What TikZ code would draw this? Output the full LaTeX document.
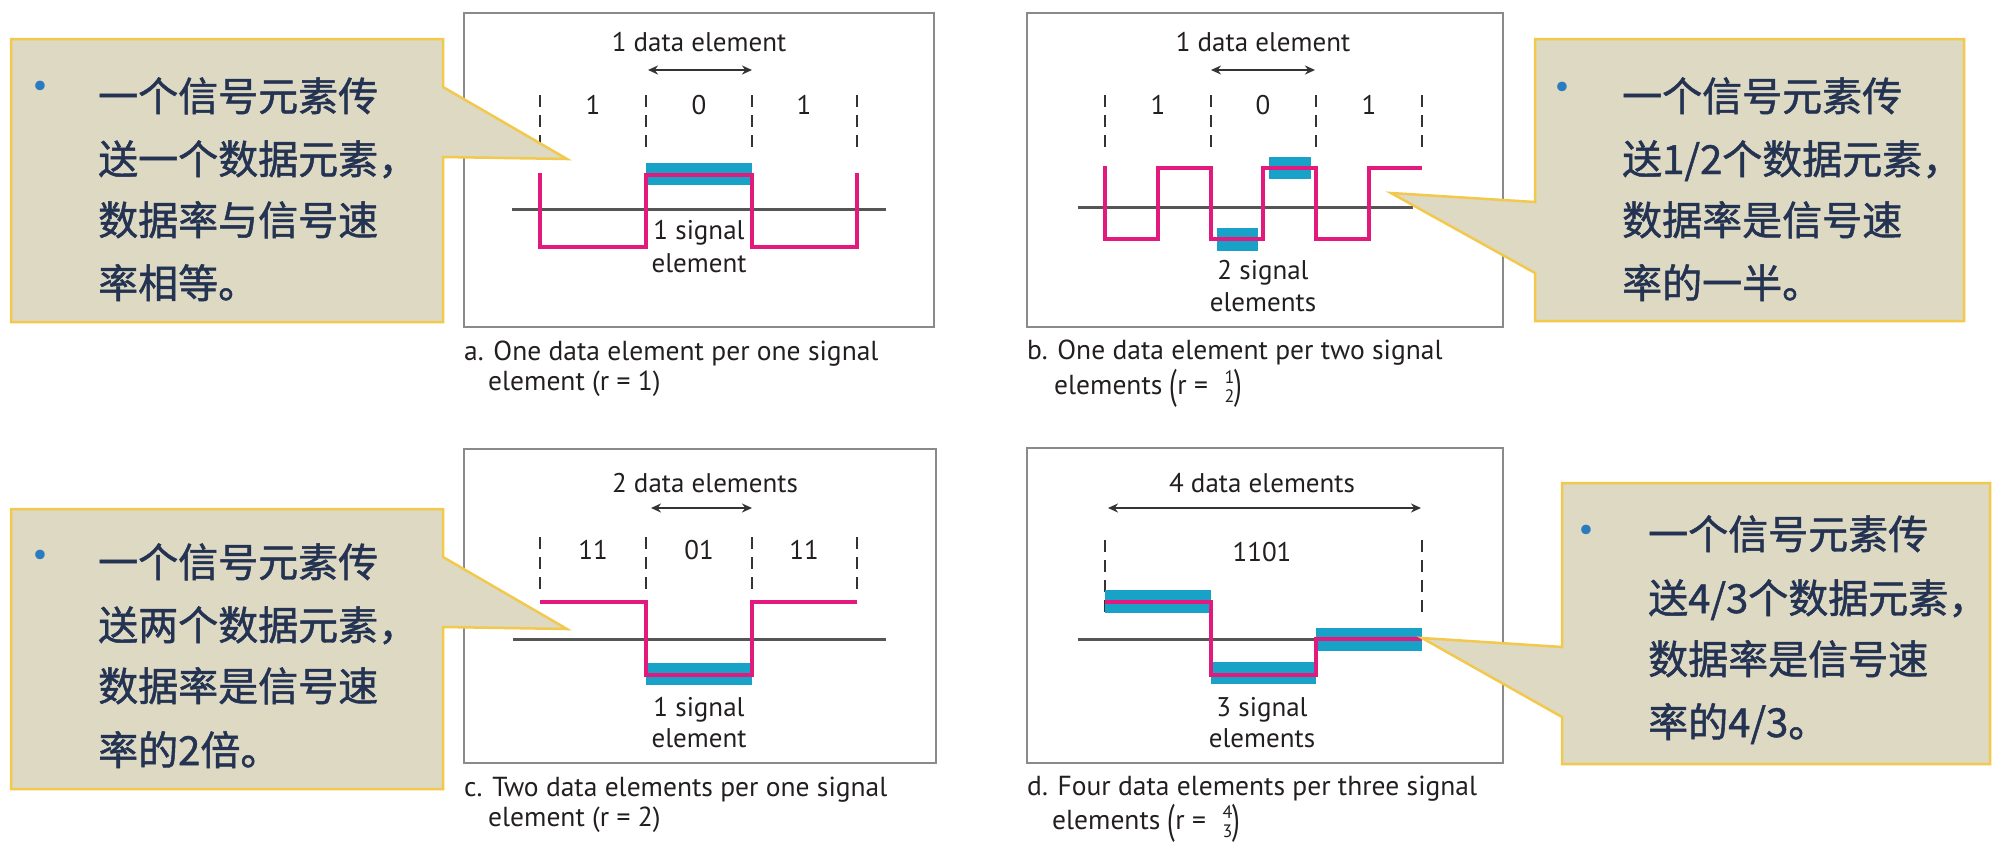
\documentclass[tikz,border=0pt]{standalone}
\usepackage{fontspec}
\usepackage{graphicx}
\setmainfont{PT Sans}
\newfontfamily\cjk{Noto Sans CJK SC}[FakeBold=1.2]
\usetikzlibrary{arrows.meta}
\definecolor{boxgray}{HTML}{8A8A8A}
\definecolor{axisgray}{HTML}{555555}
\definecolor{sigpink}{HTML}{E31A7E}
\definecolor{barcyan}{HTML}{19A2C7}
\definecolor{textblack}{HTML}{231F20}
\definecolor{callfill}{HTML}{DDD9C3}
\definecolor{calledge}{HTML}{F2C94C}
\definecolor{cntext}{HTML}{243352}
\definecolor{bulletblue}{HTML}{2B7BC0}
\newcommand{\tallp}[1]{\raisebox{-0.15em}{\scalebox{1}[1.5]{#1}}}
\newcommand{\stackfrac}[2]{{\fontsize{18}{19}\selectfont\renewcommand\arraystretch{1.0}\begin{tabular}[c]{@{}c@{}}#1\\#2\end{tabular}}}
\begin{document}
\begin{tikzpicture}[x=1pt,y=-1pt,
  panelbox/.style={draw=boxgray, line width=2.5pt},
  axisline/.style={draw=axisgray, line width=3pt},
  sig/.style={draw=sigpink, line width=4.5pt, line join=miter},
  bar/.style={fill=barcyan},
  guide/.style={draw=black!80, line width=2pt, dash pattern=on 12pt off 8pt},
  span/.style={draw=black!80, line width=2pt, {Stealth[length=10pt,width=9pt]}-{Stealth[length=10pt,width=9pt]}},
  lbl/.style={font=\fontsize{27}{31}\selectfont, text=textblack, inner sep=0pt, anchor=base},
  captext/.style={font=\fontsize{27.5}{31}\selectfont, text=textblack, inner sep=0pt, anchor=base west},
  callout/.style={fill=callfill, draw=calledge, line width=2.5pt, line join=miter},
  cn/.style={font=\cjk\fontsize{40}{48}\selectfont, text=cntext, anchor=base west, inner sep=0pt},
  dot/.style={font=\fontsize{34}{34}\selectfont, text=bulletblue, anchor=center, inner sep=0pt}]
\useasboundingbox[fill=white] (0,0) rectangle (2003,844);

% ---------- panel a ----------
\draw[panelbox] (464,13) rectangle (934,327);
\node[lbl] (a-top) at (699,51) {1 data element};
\coordinate (a-l) at (648,70); \coordinate (a-r) at (752,70);
\draw[span] (a-l) -- (a-r);
\foreach \x in {540,646,752,857} \draw[guide] (\x,95) -- (\x,147);
\node[lbl] (a-b1) at (593,114) {1};
\node[lbl] (a-b2) at (699,114) {0};
\node[lbl] (a-b3) at (804,114) {1};
\draw[axisline] (512,209) -- (886,209);
\fill[bar] (646,163) rectangle (752,185);
\draw[sig] (540,173) -- (540,247) -- (646,247) -- (646,175) -- (752,175) -- (752,247) -- (857,247) -- (857,173);
\node[lbl] (a-s1) at (699,239) {1 signal};
\node[lbl] (a-s2) at (699,272) {element};
\node[captext] (a-c1) at (464,360) {a. One data element per one signal};
\node[captext] (a-c2) at (488,390) {element (r = 1)};

% ---------- panel b ----------
\draw[panelbox] (1027,13) rectangle (1503,327);
\node[lbl] (b-top) at (1263,51) {1 data element};
\coordinate (b-l) at (1211,70); \coordinate (b-r) at (1315,70);
\draw[span] (b-l) -- (b-r);
\foreach \x in {1105,1211,1316,1422} \draw[guide] (\x,95) -- (\x,147);
\node[lbl] (b-b1) at (1158,114) {1};
\node[lbl] (b-b2) at (1263,114) {0};
\node[lbl] (b-b3) at (1369,114) {1};
\draw[axisline] (1078,207) -- (1413,207);
\fill[bar] (1217,228) rectangle (1258,251);
\fill[bar] (1269,157) rectangle (1311,179);
\draw[sig] (1105,166) -- (1105,239) -- (1158,239) -- (1158,168) -- (1211,168) -- (1211,239) -- (1263,239) -- (1263,168) -- (1316,168) -- (1316,239) -- (1369,239) -- (1369,168) -- (1422,168);
\node[lbl] (b-s1) at (1263,279) {2 signal};
\node[lbl] (b-s2) at (1263,311) {elements};
\node[captext] (b-c1) at (1027,359) {b. One data element per two signal};
\node[captext] (b-c2) at (1054,394) {elements \tallp{(}r =\,\, \stackfrac{1}{2}\tallp{)}};

% ---------- panel c ----------
\draw[panelbox] (464,449) rectangle (936,763);
\node[lbl] (c-top) at (705,492) {2 data elements};
\coordinate (c-l) at (651,508); \coordinate (c-r) at (752,508);
\draw[span] (c-l) -- (c-r);
\foreach \x in {540,646,752,857} \draw[guide] (\x,537) -- (\x,590);
\node[lbl] (c-b1) at (593,559) {11};
\node[lbl] (c-b2) at (699,559) {01};
\node[lbl] (c-b3) at (804,559) {11};
\draw[axisline] (513,639) -- (886,639);
\fill[bar] (646,663) rectangle (752,685);
\draw[sig] (540,602) -- (646,602) -- (646,675) -- (752,675) -- (752,602) -- (857,602);
\node[lbl] (c-s1) at (699,716) {1 signal};
\node[lbl] (c-s2) at (699,747) {element};
\node[captext] (c-c1) at (464,796) {c. Two data elements per one signal};
\node[captext] (c-c2) at (488,826) {element (r = 2)};

% ---------- panel d ----------
\draw[panelbox] (1027,448) rectangle (1503,763);
\node[lbl] (d-top) at (1262,492) {4 data elements};
\coordinate (d-l) at (1108,508); \coordinate (d-r) at (1421,508);
\draw[span] (d-l) -- (d-r);
\foreach \x in {1105,1422} \draw[guide] (\x,540) -- (\x,613);
\node[lbl] (d-bits) at (1262,561) {1101};
\draw[axisline] (1078,639) -- (1418,639);
\fill[bar] (1105,590) rectangle (1211,613);
\fill[bar] (1211,662) rectangle (1316,684);
\fill[bar] (1316,628) rectangle (1422,651);
\draw[sig] (1105,602) -- (1211,602) -- (1211,675) -- (1316,675) -- (1316,639) -- (1422,639);
\node[lbl] (d-s1) at (1262,716) {3 signal};
\node[lbl] (d-s2) at (1262,747) {elements};
\node[captext] (d-c1) at (1027,795) {d. Four data elements per three signal};
\node[captext] (d-c2) at (1052,829) {elements \tallp{(}r =\,\, \stackfrac{4}{3}\tallp{)}};

% ---------- callouts ----------
\draw[callout] (11,39) -- (443,39) -- (443,87) -- (567,159) -- (443,157) -- (443,322) -- (11,322) -- cycle;
\node[dot] (ta-dot) at (40,89) {•};
\node[cn] (ta1) at (98,111) {一个信号元素传};
\node[cn] (ta2) at (98,174) {送一个数据元素，};
\node[cn] (ta3) at (98,235) {数据率与信号速};
\node[cn] (ta4) at (98,298) {率相等。};

\draw[callout] (1535,39) -- (1964,39) -- (1964,321) -- (1535,321) -- (1535,273) -- (1391,193) -- (1535,202) -- cycle;
\node[dot] (tb-dot) at (1562,90) {•};
\node[cn] (tb1) at (1622,111) {一个信号元素传};
\node[cn] (tb2) at (1622,174) {送1/2个数据元素，};
\node[cn] (tb3) at (1622,235) {数据率是信号速};
\node[cn] (tb4) at (1622,298) {率的一半。};

\draw[callout] (11,509) -- (443,509) -- (443,557) -- (567,629) -- (443,627) -- (443,789) -- (11,789) -- cycle;
\node[dot] (tc-dot) at (40,558) {•};
\node[cn] (tc1) at (98,577) {一个信号元素传};
\node[cn] (tc2) at (98,640) {送两个数据元素，};
\node[cn] (tc3) at (98,701) {数据率是信号速};
\node[cn] (tc4) at (98,765) {率的2倍。};

\draw[callout] (1562,483) -- (1990,483) -- (1990,764) -- (1562,764) -- (1562,717) -- (1422,638) -- (1562,647) -- cycle;
\node[dot] (td-dot) at (1586,533) {•};
\node[cn] (td1) at (1648,549) {一个信号元素传};
\node[cn] (td2) at (1648,613) {送4/3个数据元素，};
\node[cn] (td3) at (1648,674) {数据率是信号速};
\node[cn] (td4) at (1648,737) {率的4/3。};
\end{tikzpicture}
\end{document}
